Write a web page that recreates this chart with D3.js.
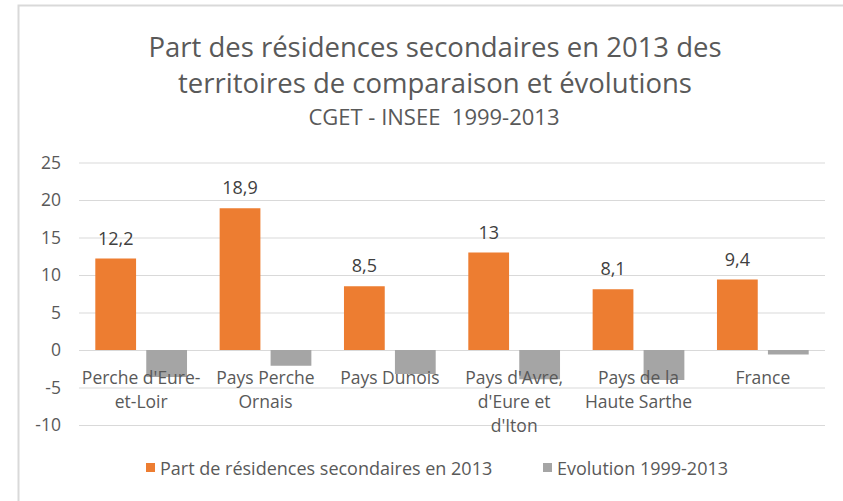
<!DOCTYPE html>
<html>
<head>
<meta charset="utf-8">
<script src="https://cdn.jsdelivr.net/npm/d3@7"></script>
<style>
  body { margin: 0; background: #fff; }
  text { font-family: "Open Sans", Lato, sans-serif; }
</style>
</head>
<body>
<script>
// data
const categories = ["Perche d'Eure-et-Loir", "Pays Perche Ornais", "Pays Dunois",
    "Pays d'Avre, d'Eure et d'Iton", "Pays de la Haute Sarthe", "France"];
const categoryLines = [["Perche d'Eure-", "et-Loir"], ["Pays Perche", "Ornais"], ["Pays Dunois"],
    ["Pays d'Avre,", "d'Eure et", "d'Iton"], ["Pays de la", "Haute Sarthe"], ["France"]];
const part2013 = [12.2, 18.9, 8.5, 13, 8.1, 9.4];
const evolution = [-3.6, -2.1, -3.2, -3.9, -4.0, -0.6];
const seriesNames = ["Part de résidences secondaires en 2013", "Evolution 1999-2013"];
const yTicks = [-10, -5, 0, 5, 10, 15, 20, 25];

const colors = ["#ED7D31", "#A5A5A5"];
const font = "'Open Sans', Lato, sans-serif";

const canvWidth = 843, canvHeight = 501;
const svg = d3.select("body").append("svg")
    .attr("width", canvWidth)
    .attr("height", canvHeight);

// chart frame (only left and top edges are visible in the crop)
svg.append("path")
    .attr("d", "M18.5,501 L18.5,5.5 L843,5.5")
    .attr("fill", "none")
    .attr("stroke", "#d9d9d9")
    .attr("stroke-width", 2);

const margin = {top: 162.5, right: 18, bottom: 76, left: 79};
const width = canvWidth - margin.left - margin.right;
const height = canvHeight - margin.top - margin.bottom;

const g = svg.append("g")
    .attr("transform", "translate(" + margin.left + "," + margin.top + ")");

// titles
const title = svg.append("g").attr("fill", "#595959").attr("text-anchor", "middle");
title.append("text").attr("x", 435).attr("y", 57).attr("font-size", "27.5px")
    .text("Part des résidences secondaires en 2013 des");
title.append("text").attr("x", 435).attr("y", 93).attr("font-size", "27.5px")
    .text("territoires de comparaison et évolutions");
title.append("text").attr("x", 434).attr("y", 125).attr("font-size", "22px")
    .attr("xml:space", "preserve")
    .text("CGET - INSEE  1999-2013");

// scales
const x0 = d3.scaleBand()
    .domain(categories)
    .range([0, width])
    .padding(0);

const x1 = d3.scaleBand()
    .domain(seriesNames)
    .range([0, x0.bandwidth()])
    .paddingInner(0.2)
    .paddingOuter(0.32);

const yScale = d3.scaleLinear()
    .domain([-10, 25])
    .range([height, 0]);

// y axis with gridlines
const yAxis = d3.axisLeft(yScale)
    .tickValues(yTicks)
    .tickFormat(d => String(d))
    .tickSizeInner(-width)
    .tickSizeOuter(0)
    .tickPadding(18);
const yg = g.append("g").call(yAxis);
yg.select(".domain").remove();
yg.selectAll(".tick line").attr("stroke", "#d9d9d9").attr("stroke-width", 1);
yg.selectAll(".tick text")
    .attr("fill", "#595959")
    .attr("font-size", "17.5px")
    .attr("font-family", font);

// bars
const rows = categories.map((c, i) => ({cat: c, values: [part2013[i], evolution[i]]}));

const groups = g.selectAll(".grp")
    .data(rows)
    .enter().append("g")
    .attr("class", "grp")
    .attr("transform", d => "translate(" + x0(d.cat) + ",0)");

groups.selectAll("rect")
    .data(d => d.values.map((v, j) => ({key: seriesNames[j], value: v, j: j})))
    .enter().append("rect")
    .attr("x", d => x1(d.key))
    .attr("width", x1.bandwidth())
    .attr("y", d => yScale(Math.max(0, d.value)))
    .attr("height", d => Math.abs(yScale(d.value) - yScale(0)))
    .attr("fill", d => colors[d.j]);

// data labels for the first series
groups.append("text")
    .attr("x", d => x1(seriesNames[0]) + x1.bandwidth() / 2)
    .attr("y", d => yScale(d.values[0]) - 14)
    .attr("text-anchor", "middle")
    .attr("font-size", "18px")
    .attr("fill", "#404040")
    .text(d => String(d.values[0]).replace(".", ","));

// category labels (drawn over the bars, like the original)
categories.forEach((c, i) => {
    const t = g.append("text")
        .attr("x", x0(c) + x0.bandwidth() / 2)
        .attr("y", yScale(0) + 34)
        .attr("text-anchor", "middle")
        .attr("font-size", "17.5px")
        .attr("fill", "#595959");
    categoryLines[i].forEach((line, k) => {
        t.append("tspan")
            .attr("x", x0(c) + x0.bandwidth() / 2)
            .attr("dy", k === 0 ? 0 : 24)
            .text(line);
    });
});

// legend
const legendX = [146, 543];
const legend = svg.append("g");
seriesNames.forEach((s, j) => {
    legend.append("rect")
        .attr("x", legendX[j]).attr("y", 463)
        .attr("width", 9).attr("height", 9)
        .attr("fill", colors[j]);
    legend.append("text")
        .attr("x", legendX[j] + 14).attr("y", 475)
        .attr("font-size", "18px")
        .attr("fill", "#595959")
        .text(s);
});
</script>
</body>
</html>
